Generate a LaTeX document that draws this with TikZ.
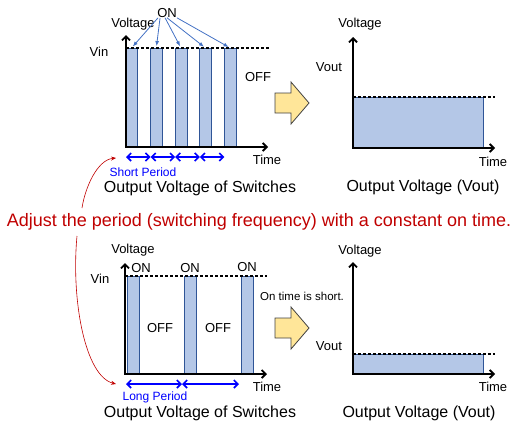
\documentclass[tikz,border=0pt]{standalone}
\usepackage{fontspec}
\setmainfont{Liberation Sans}
\usetikzlibrary{arrows.meta}

\definecolor{barfill}{HTML}{B4C7E7}
\definecolor{barline}{HTML}{2F5597}
\definecolor{onblue}{HTML}{4472C4}
\definecolor{perblue}{HTML}{0000FF}
\definecolor{adjred}{HTML}{C00000}
\definecolor{bigfill}{HTML}{FFE699}
\definecolor{bigline}{HTML}{404040}

\tikzset{bigarrow/.pic={
    \draw [fill=bigfill, draw=bigline, line width=0.8pt, line join=miter]
      (0,-10) -- (16,-10) -- (16,-21) -- (34,0) -- (16,21) -- (16,10) -- (0,10) -- cycle;
}}

\begin{document}
\begin{tikzpicture}[x=1pt, y=-1pt,
    font=\fontsize{13}{15}\selectfont,
    txt/.style={inner sep=0pt},
    captxt/.style={inner sep=0pt, font=\fontsize{16}{18}\selectfont},
    pertxt/.style={inner sep=0pt, text=perblue, font=\fontsize{12}{14}\selectfont},
    vaxis/.style={line width=1.8pt, {Straight Barb[length=4pt,width=8pt]}-{Straight Barb[length=4pt,width=8pt]}},
    bar/.style={draw=barline, fill=barfill, line width=0.8pt, inner sep=0pt, outer sep=0pt, anchor=south west},
    vlevel/.style={line width=1.1pt, dash pattern=on 3pt off 2pt},
    onarrow/.style={draw=onblue, line width=0.8pt, -{Latex[length=5pt,width=4pt]}, shorten >=2pt},
    period/.style={draw=perblue, line width=1.6pt, {Straight Barb[length=4pt,width=8pt]}-{Straight Barb[length=4pt,width=8pt]}},
    adjarrow/.style={draw=adjred, line width=0.6pt, -{Stealth[length=5pt,width=4pt]}}]

    \useasboundingbox (0,0) rectangle (516,426);

    % short period: switches
    \foreach \x [count=\i] in {125.5,150.3,175,199.5,224.3}
        \node [bar, minimum width=12pt, minimum height=99pt] (b\i) at (\x,147) {};
    \draw [vlevel] (126,48) -- (270,48);
    \coordinate (ya) at (126,35);
    \coordinate (xa) at (268,147);
    \draw [vaxis] (ya) |- (xa);
    \node [txt] (volt1) at (133,24) {Voltage};
    \node [txt] (vin1) at (99,52) {Vin};
    \node [txt] (on1) at (167,13) {ON};
    \node [txt] (off1) at (258,77) {OFF};
    \node [txt] (time1) at (267,160) {Time};
    \draw [onarrow] ([xshift=1pt]on1.south west) -- (b1.north);
    \draw [onarrow] ([xshift=3pt]on1.south west) -- (b2.north);
    \draw [onarrow] ([xshift=8pt]on1.south west) -- (b3.north);
    \draw [onarrow] (on1.south) -- (b4.north);
    \draw [onarrow] (on1.south east) -- (b5.north);
    \foreach \x [count=\i] in {126,150.6,175.2,199.8,224.4}
        \coordinate (p\i) at (\x,157);
    \foreach \i/\j in {1/2,2/3,3/4,4/5}
        \draw [period] (p\i) -- (p\j);
    \node [pertxt] (sp) at (143,172) {Short Period};
    \node [captxt] (cap1) at (200,188) {Output Voltage of Switches};

    \pic at (275,103) {bigarrow};

    % short period: output
    \draw [draw=barline, fill=barfill, line width=0.8pt] (353,97) rectangle (483,148);
    \draw [vlevel] (353,97) -- (495,97);
    \coordinate (yb) at (353,37);
    \coordinate (xb) at (495,148);
    \draw [vaxis] (yb) |- (xb);
    \node [txt] (volt2) at (360,24) {Voltage};
    \node [txt] (vout1) at (329,67) {Vout};
    \node [txt] (time2) at (493,162) {Time};
    \node [captxt] (cap2) at (423,187) {Output Voltage (Vout)};

    % message
    \node [inner sep=0pt, text=adjred, font=\fontsize{18}{20}\selectfont] (adj) at (259,222)
        {Adjust the period (switching frequency) with a constant on time.};
    \coordinate (r1) at (82,208);
    \coordinate (r2) at (77,236);
    \coordinate (t1) at (116,158);
    \coordinate (t2) at (116,384);
    \draw [adjarrow] (r1) .. controls (85,188) and (97,160) .. (t1);
    \draw [adjarrow] (r2) .. controls (71,300) and (85,376) .. (t2);

    % long period: switches
    \foreach \x [count=\i] in {127,184,241}
        \node [bar, minimum width=12pt, minimum height=98pt] (c\i) at (\x,374) {};
    \draw [vlevel] (125,276) -- (267,276);
    \coordinate (yc) at (125,263);
    \coordinate (xc) at (267,374);
    \draw [vaxis] (yc) |- (xc);
    \node [txt] (volt3) at (133,250) {Voltage};
    \node [txt] (vin2) at (100,279) {Vin};
    \node [txt] (on2) at (141,268) {ON};
    \node [txt] (on3) at (190,268) {ON};
    \node [txt] (on4) at (247,267) {ON};
    \node [txt] (off2) at (160,328) {OFF};
    \node [txt] (off3) at (218,328) {OFF};
    \node [txt, anchor=west, font=\fontsize{11.5}{13}\selectfont] (short) at (260,296) {On time is short.};
    \node [txt] (time3) at (267,387) {Time};
    \coordinate (q1) at (126,384);
    \coordinate (q2) at (182,384);
    \coordinate (q3) at (239,384);
    \draw [period] (q1) -- (q2);
    \draw [period] (q2) -- (q3);
    \node [pertxt] (lp) at (155,397) {Long Period};
    \node [captxt] (cap3) at (200,413) {Output Voltage of Switches};

    \pic at (275,328) {bigarrow};

    % long period: output
    \draw [draw=barline, fill=barfill, line width=0.8pt] (353,354) rectangle (483,374);
    \draw [vlevel] (353,354) -- (495,354);
    \coordinate (yd) at (353,262);
    \coordinate (xd) at (495,374);
    \draw [vaxis] (yd) |- (xd);
    \node [txt] (volt4) at (360,251) {Voltage};
    \node [txt] (vout2) at (329,346) {Vout};
    \node [txt] (time4) at (493,387) {Time};
    \node [captxt] (cap4) at (419,413) {Output Voltage (Vout)};
\end{tikzpicture}
\end{document}
